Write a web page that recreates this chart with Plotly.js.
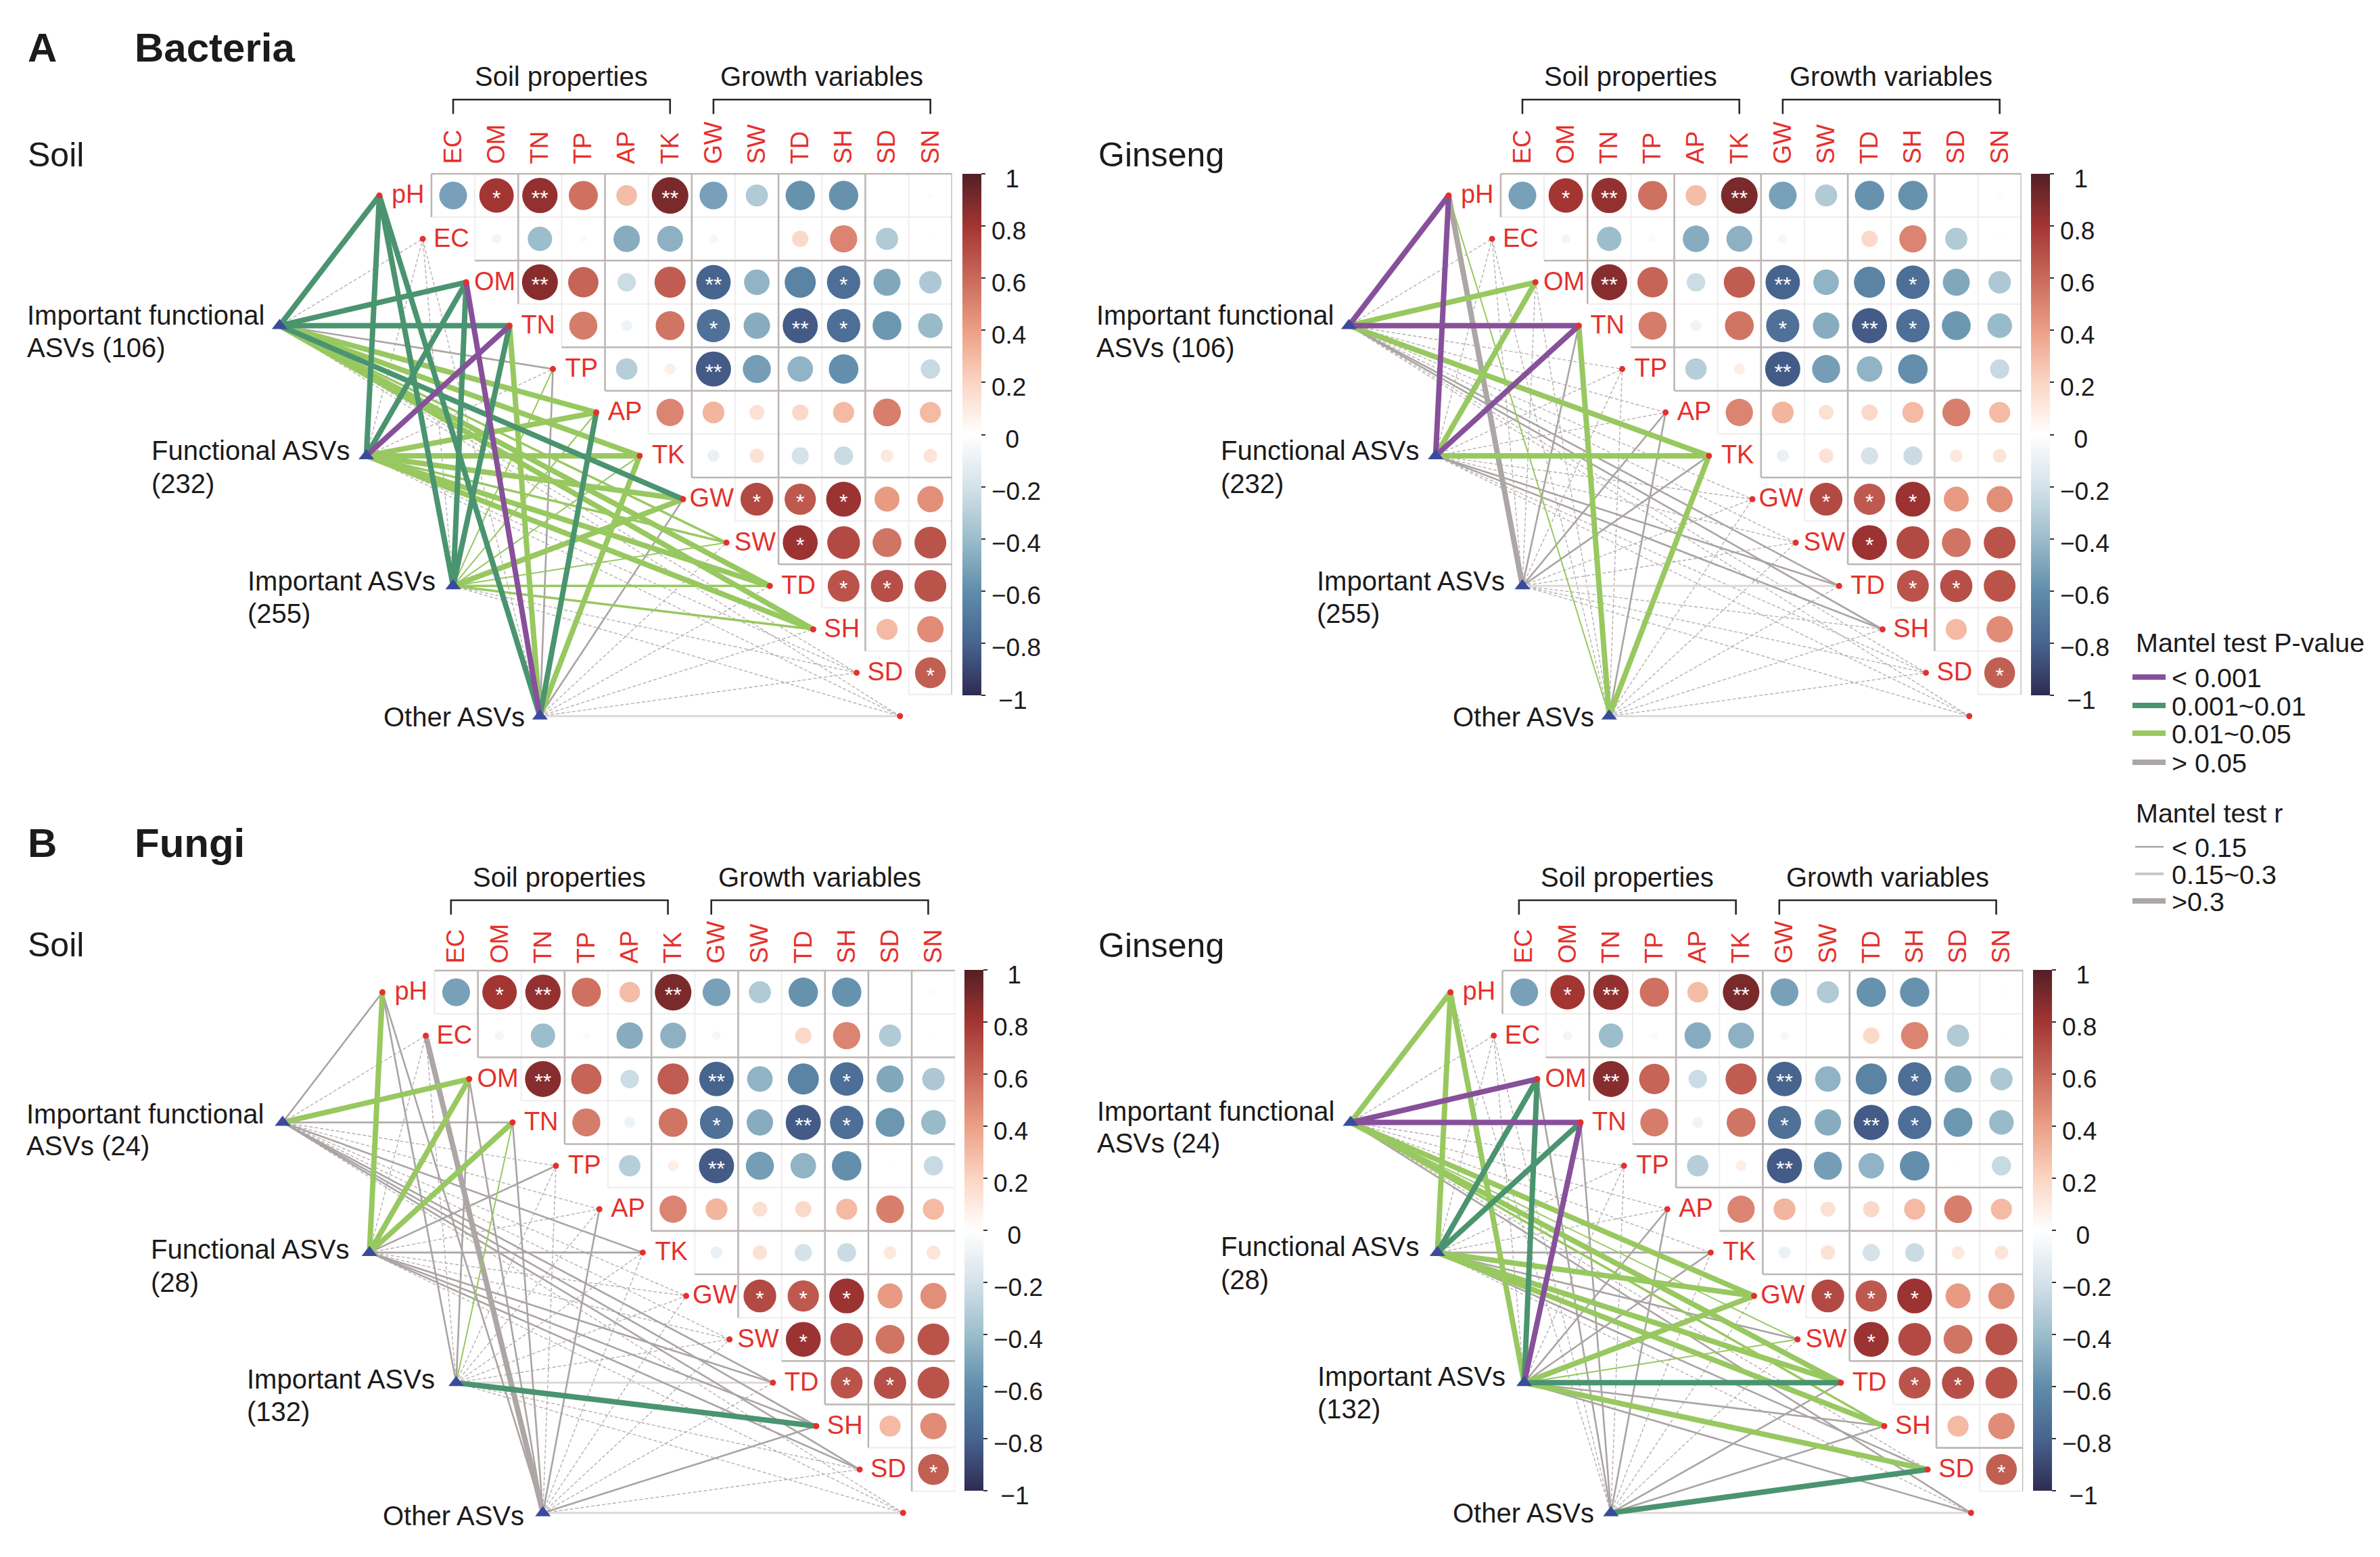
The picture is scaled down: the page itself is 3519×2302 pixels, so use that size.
<!DOCTYPE html>
<html><head><meta charset="utf-8">
<script src="https://cdn.plot.ly/plotly-3.0.1.min.js"></script>
<style>html,body{margin:0;padding:0;background:#fff}</style></head>
<body><div id="chart" style="width:3519px;height:2302px"></div>
<script>
// ---------- data ----------
const variables = ['pH','EC','OM','TN','TP','AP','TK','GW','SW','TD','SH','SD','SN'];
const columns = ['EC','OM','TN','TP','AP','TK','GW','SW','TD','SH','SD','SN'];
const asvLines = ['Important functional','Functional ASVs','Important ASVs','Other ASVs'];
const correlations = [
 [-0.52,0.8,0.84,0.57,0.29,0.9,-0.52,-0.33,-0.58,-0.58,0,0.02],
 [-0.06,-0.4,0.03,-0.47,-0.45,-0.05,0,0.18,0.5,-0.33,-0.015],
 [0.87,0.62,-0.23,0.65,-0.8,-0.44,-0.65,-0.75,-0.49,-0.34],
 [0.53,-0.08,0.56,-0.74,-0.47,-0.83,-0.75,-0.56,-0.41],
 [-0.31,0.08,-0.83,-0.53,-0.44,-0.59,-0.01,-0.25],
 [0.5,0.32,0.15,0.18,0.3,0.52,0.3],
 [-0.1,0.14,-0.2,-0.24,0.11,0.13],
 [0.72,0.66,0.82,0.42,0.46],
 [0.82,0.72,0.56,0.68],
 [0.68,0.7,0.68],
 [0.3,0.47],
 [0.64]
];
const stars = [
 ['','*','**','','','**','','','','','',''],
 ['','','','','','','','','','',''],
 ['**','','','','**','','','*','',''],
 ['','','','*','','**','*','',''],
 ['','','**','','','','',''],
 ['','','','','','',''],
 ['','','','','',''],
 ['*','*','*','',''],
 ['*','','',''],
 ['*','*',''],
 ['',''],
 ['*']
];
// link codes per ASV group, in the order of `variables`:
// P/G/L/N = P-value class, w/m/t/e = r class
const linksBacteriaSoil = [
 ['Gw','Nt','Gw','Gw','Nm','Lw','Lw','Gw','Lm','Lw','Lw','Nt','Nt'],
 ['Gw','Nt','Gw','Pw','Nt','Lw','Lw','Lw','Lm','Lw','Lw','Nt','Nt'],
 ['Gw','Nt','Gw','Gw','Lt','Lt','Lt','Lw','Lt','Lm','Lm','Nt','Nt'],
 ['Gw','Nt','Pw','Lw','Nm','Gw','Lw','Nm','Nt','Nt','Nt','Nt','Ne']
];
const linksBacteriaGinseng = [
 ['Pw','Nt','Lw','Pw','Nt','Nt','Lw','Nt','Nt','Nm','Nm','Nt','Nt'],
 ['Pw','Nt','Lw','Pw','Nt','Nt','Lw','Nt','Nt','Nm','Nm','Nt','Nt'],
 ['Nw','Nt','Nt','Nm','Nt','Nm','Nm','Nt','Nt','Ne','Nt','Nt','Nt'],
 ['Lt','Nt','Nt','Lw','Nt','Nm','Lw','Nt','Nt','Nt','Nt','Nt','Ne']
];
const linksFungiSoil = [
 ['Nm','Nt','Lw','Nm','Nt','Nt','Nm','Nt','Nt','Nm','Nm','Nm','Nt'],
 ['Lw','Nt','Lw','Lw','Nm','Nt','Nm','Nt','Nt','Nm','Nm','Nm','Nt'],
 ['Nm','Nt','Nm','Lt','Nt','Nt','Nt','Nt','Nt','Ne','Gw','Nt','Nt'],
 ['Nm','Nw','Nm','Nm','Nt','Nm','Nt','Nt','Nt','Nt','Nm','Nt','Ne']
];
const linksFungiGinseng = [
 ['Lw','Nt','Pw','Pw','Nt','Nt','Nt','Lw','Lt','Lw','Lm','Nt','Nm'],
 ['Lw','Nt','Gw','Gw','Nt','Nt','Nm','Lw','Nm','Lw','Lw','Nm','Nt'],
 ['Lw','Nt','Gw','Pw','Nt','Nm','Nm','Lw','Lt','Gw','Nm','Lw','Nm'],
 ['Nt','Nt','Nm','Nm','Nt','Nm','Nt','Nt','Nt','Nm','Nm','Gw','Ne']
];
const pLegend = ['< 0.001','0.001~0.01','0.01~0.05','> 0.05'];
const rLegend = ['< 0.15','0.15~0.3','>0.3'];
const cbTickVals = [-1,-0.8,-0.6,-0.4,-0.2,0,0.2,0.4,0.6,0.8,1];
const cbTickText = ['\u00a0−1','−0.8','−0.6','−0.4','−0.2','\u00a0\u00a00','0.2','0.4','0.6','0.8','\u00a0\u00a01'];

// ---------- styles and placement ----------
const W = 3519, H = 2302, U = 64.15;
const FONT = '"Liberation Sans", Arial, sans-serif';
const RED = '#e5302c', INK = '#1c1a1a';
const GRAY='#aca6a5', PURPLE='#87509a', GREEN='#4a9470', LIME='#98c860';
const linkStyle = {
 Nt:{color:'#b6b0af',width:1.4,dash:'5px,3px'}, Ne:{color:'#dcd8d7',width:3,dash:'solid'},
 Nm:{color:'#aaa4a3',width:2.6,dash:'solid'}, Nw:{color:GRAY,width:8,dash:'solid'},
 Lt:{color:LIME,width:2,dash:'solid'}, Lm:{color:LIME,width:3.5,dash:'solid'}, Lw:{color:LIME,width:8,dash:'solid'},
 Gw:{color:GREEN,width:8,dash:'solid'}, Pw:{color:PURPLE,width:8,dash:'solid'}
};
const colorscale = [[0,'#2f2b52'],[0.1,'#47648f'],[0.2,'#608dab'],[0.3,'#9cbdcb'],[0.4,'#d5e2ea'],[0.5,'#ffffff'],
 [0.6,'#fbd5c3'],[0.7,'#ec9f86'],[0.8,'#c9695b'],[0.9,'#a33533'],[1,'#521f24']];
const panels = [
 {key:'',  x0:670,  y0:289,  title:'Soil',   tx:39,  ty:229,  n:['106','232','255'], links:linksBacteriaSoil,
  vs:[0,2,4,6,8,10,12], hs:[0,2,4,5,7,9], shift:0, cbx:1423, cbt:257, cbb:1028, ly:0, lx:0, btop:-2.21, bbot:-1.88, ttl:-2.75, tl:7},
 {key:'2', x0:2251, y0:289,  title:'Ginseng',tx:1622,ty:229,  n:['106','232','255'], links:linksBacteriaGinseng,
  vs:[0,2,4,6,8,10,12], hs:[0,2,4,5,7,9], shift:0, cbx:3003, cbt:257, cbb:1028, ly:0, lx:0, btop:-2.21, bbot:-1.88, ttl:-2.75, tl:7},
 {key:'3', x0:674.5,y0:1467, title:'Soil',   tx:39,  ty:1397, n:['24','28','132'], links:linksFungiSoil,
  vs:[1,3,5,7,9,10,11], hs:[0,2,4,6,7,9,10], shift:-0.12, cbx:1426, cbt:1434, cbb:2204, ly:0.04, lx:-0.08, btop:-2.12, bbot:-1.79, ttl:-2.65, tl:3},
 {key:'4', x0:2253.6,y0:1467,title:'Ginseng',tx:1622,ty:1398, n:['24','28','132'], links:linksFungiGinseng,
  vs:[0,2,4,6,8,10,12], hs:[0,2,4,5,6,7,9,11], shift:-0.12, cbx:3006, cbt:1434, cbb:2204, ly:-0.02, lx:-0.03, btop:-2.12, bbot:-1.79, ttl:-2.65, tl:3}
];
const asvCols = [-4,-2,0,2], asvRows = [3,6,9,12];
const labelCols = [-9.85,-6.99,-4.77,-1.64];
const labelRows = [[2.76,3.5],[5.88,6.64],[8.88,9.63],[12.02,null]];
const COLMIN = -10.4, COLMAX = 11.5, ROWMIN = -3.2, ROWMAX = 12.5;
const nodeCol = i => i - 1.70;
const sizeOf = r => 57*Math.sqrt(Math.abs(r));
const px = x => x/W, py = y => 1 - y/H;

const traces = [], annotations = [], shapes = [];
const layout = {width:W,height:H,paper_bgcolor:'#fff',plot_bgcolor:'rgba(0,0,0,0)',showlegend:false,hovermode:false,
  margin:{l:0,r:0,t:0,b:0,autoexpand:false},font:{family:FONT,color:INK}};

panels.forEach(p => {
  const xa='x'+p.key, ya='y'+p.key, common={xaxis:xa,yaxis:ya,cliponaxis:false,hoverinfo:'skip',showlegend:false};
  const left=p.x0+COLMIN*U, right=p.x0+COLMAX*U, top=p.y0+ROWMIN*U, bot=p.y0+ROWMAX*U, gridTop=p.y0-0.5*U;
  layout['xaxis'+p.key]={domain:[px(left),px(right)],range:[COLMIN,COLMAX],anchor:'free',position:py(gridTop),side:'top',showgrid:false,zeroline:false,showline:false,
    tickmode:'array',tickvals:columns.map((_,i)=>i),ticktext:columns,tickangle:-90,ticks:'outside',ticklen:p.tl,tickcolor:'rgba(0,0,0,0)',
    tickfont:{family:FONT,size:36.5,color:RED},fixedrange:true};
  layout['yaxis'+p.key]={domain:[py(bot),py(top)],range:[ROWMAX,ROWMIN],anchor:xa,visible:false,fixedrange:true};

  // grid of the triangular matrix
  const gs={x:[],y:[]}, gf={x:[],y:[]};
  for(let b=0;b<=12;b++){ // vertical boundary left of column b
    const t=p.vs.includes(b)?gs:gf;
    t.x.push(b-0.5,b-0.5,null); t.y.push(-0.5,Math.min(b,11)+0.5,null);
  }
  for(let b=0;b<=12;b++){ // horizontal boundary above row b
    const t=p.hs.includes(b)?gs:gf;
    t.x.push(Math.max(b-1,0)-0.5,11.5,null); t.y.push(b-0.5,b-0.5,null);
  }
  traces.push({...common,type:'scatter',mode:'lines',x:gf.x,y:gf.y,line:{color:'#efecec',width:2}});
  traces.push({...common,type:'scatter',mode:'lines',x:gs.x,y:gs.y,line:{color:'#bdb6b4',width:2.6}});

  // Mantel links
  ['Nt','Ne','Nm','Nw','Lt','Lm','Lw','Gw','Pw'].forEach(code=>{
    const lx=[],ly=[];
    p.links.forEach((row,a)=>row.forEach((c,v)=>{
      if(c===code){lx.push(asvCols[a],nodeCol(v),null);ly.push(asvRows[a],v,null);}
    }));
    if(lx.length) traces.push({...common,type:'scatter',mode:'lines',x:lx,y:ly,line:linkStyle[code]});
  });

  // nodes
  traces.push({...common,type:'scatter',mode:'markers',x:variables.map((_,i)=>nodeCol(i)),y:variables.map((_,i)=>i),
    marker:{symbol:'circle',size:9,color:RED,opacity:1}});
  traces.push({...common,type:'scatter',mode:'markers',x:asvCols,y:asvRows,marker:{symbol:'triangle-up',size:20,color:'#3a4b9c',opacity:1}});

  // correlation circles
  const cx=[],cy=[],cv=[],cs=[],sx=[],sy=[],st=[];
  correlations.forEach((row,r)=>row.forEach((v,k)=>{
    const c=r+k; cx.push(c);cy.push(r);cv.push(v);cs.push(sizeOf(v));
    if(stars[r][k]){sx.push(c);sy.push(r+0.11);st.push(stars[r][k]);}
  }));
  traces.push({...common,type:'scatter',mode:'markers',x:cx,y:cy,
    marker:{size:cs,sizemode:'diameter',opacity:1,color:cv,cmin:-1,cmax:1,colorscale:colorscale,line:{width:0},showscale:true,
      colorbar:{x:px(p.cbx),xanchor:'left',xpad:0,y:py((p.cbt+p.cbb)/2),yanchor:'middle',ypad:0,len:p.cbb-p.cbt,lenmode:'pixels',
        thickness:28,thicknessmode:'pixels',outlinewidth:0,borderwidth:0,tickmode:'array',tickvals:cbTickVals,ticktext:cbTickVals.map(()=>''),
        ticks:'outside',ticklen:6,tickwidth:2,tickcolor:'#333',tickfont:{family:FONT,size:4,color:INK}}}});
  traces.push({...common,type:'scatter',mode:'text',x:sx,y:sy,text:st,textposition:'middle center',textfont:{family:FONT,size:32,color:'#fff'}});

  // colour-bar value labels (they sit a little below their ticks in the reference)
  cbTickVals.forEach((v,i)=>annotations.push({xref:'paper',yref:'paper',x:px(p.cbx+41),
    y:py(p.cbt+(1-v)/2*(p.cbb-p.cbt)+7),text:cbTickText[i],showarrow:false,xanchor:'left',yanchor:'middle',font:{family:FONT,size:37,color:INK}}));

  // row labels
  const rowIdx=variables.slice(0,12).map((_,i)=>i);
  traces.push({...common,type:'scatter',mode:'text',x:rowIdx.map(i=>i-1.04),y:rowIdx.map(i=>i+0.03),
    text:variables.slice(0,12),textposition:'middle center',textfont:{family:FONT,size:38,color:RED}});

  // brackets
  const s=p.shift, bt=p.btop, bb=p.bbot;
  traces.push({...common,type:'scatter',mode:'lines',
    x:[0+s,0+s,5+s,5+s,null,6+s,6+s,11+s,11+s],y:[bb,bt,bt,bb,null,bb,bt,bt,bb],line:{color:'#2a2727',width:2.6}});
  [['Soil properties',2.5],['Growth variables',8.5]].forEach(([t,c])=>annotations.push({
    xref:xa,yref:ya,x:c+s,y:p.ttl,text:t,showarrow:false,xanchor:'center',yanchor:'middle',font:{family:FONT,size:40,color:INK}}));

  // ASV group labels
  asvLines.forEach((first,a)=>{
    const n=p.n[a], rows=labelRows[a];
    const second=a===0?'ASVs ('+n+')':(a<3?'('+n+')':null);
    annotations.push({xref:xa,yref:ya,x:labelCols[a]+p.lx,y:rows[0]+p.ly,text:first,showarrow:false,xanchor:'left',yanchor:'middle',font:{family:FONT,size:40,color:INK}});
    if(second) annotations.push({xref:xa,yref:ya,x:labelCols[a]+p.lx,y:rows[1]+p.ly,text:second,showarrow:false,xanchor:'left',yanchor:'middle',font:{family:FONT,size:40,color:INK}});
  });
  annotations.push({xref:'paper',yref:'paper',x:px(p.tx),y:py(p.ty),text:p.title,showarrow:false,xanchor:'left',yanchor:'middle',font:{family:FONT,size:50,color:INK}});
});

// panel headings
[['A',39,71],['Bacteria',197,71],['B',39,1246],['Fungi',197,1246]].forEach(([t,x,y])=>annotations.push({
  xref:'paper',yref:'paper',x:px(x),y:py(y),text:'<b>'+t+'</b>',showarrow:false,xanchor:'left',yanchor:'middle',font:{family:FONT,size:60,color:INK}}));

// legends
const txt=(t,x,y)=>annotations.push({xref:'paper',yref:'paper',x:px(x),y:py(y),text:t,showarrow:false,xanchor:'left',yanchor:'middle',font:{family:FONT,size:39.5,color:INK}});
const key=(x0,x1,y,color,width)=>shapes.push({type:'line',xref:'paper',yref:'paper',x0:px(x0),x1:px(x1),y0:py(y),y1:py(y),line:{color,width}});
txt('Mantel test P-value',3156,950);
[PURPLE,GREEN,LIME,GRAY].forEach((c,i)=>{const y=[1001,1043,1084,1127][i];key(3153,3202,y,c,8);txt(pLegend[i],3209,y+1);});
txt('Mantel test r',3156,1202);
[['#aaa4a3',2.5,3157,3199],['#ccc7c6',4,3157,3199],['#aca6a5',8,3153,3202]].forEach((k,i)=>{const y=[1252,1292,1332][i];key(k[2],k[3],y,k[0],k[1]);txt(rLegend[i],3209,y+1);});

layout.annotations=annotations; layout.shapes=shapes;
Plotly.newPlot('chart',traces,layout,{staticPlot:true,displayModeBar:false,responsive:false});
</script></body></html>
